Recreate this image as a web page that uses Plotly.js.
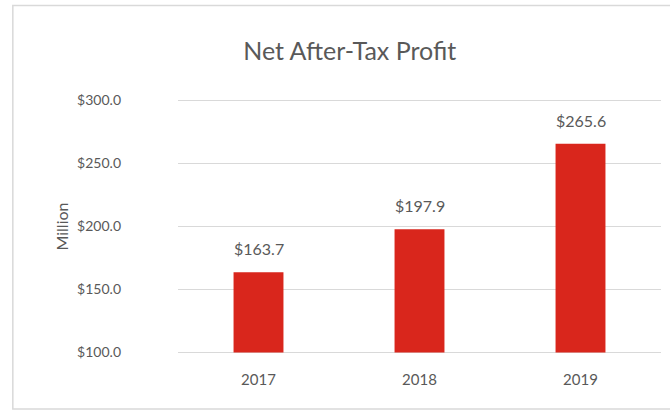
<!DOCTYPE html>
<html>
<head>
<meta charset="utf-8">
<script src="https://cdn.plot.ly/plotly-3.0.1.min.js"></script>
<style>
html,body{margin:0;padding:0;background:#fff;}
#chart{width:670px;height:410px;}
</style>
</head>
<body>
<div id="chart"></div>
<script>
const years = ["2017", "2018", "2019"];
const profit = [163.7, 197.9, 265.6];
const yTicks = [100, 150, 200, 250, 300];
const yTickLabels = ["$100.0", "$150.0", "$200.0", "$250.0", "$300.0"];
const axisFloor = 100;

const textColor = "#595959";
const font = "Lato, 'Open Sans', sans-serif";

// bars start at the axis floor ($100.0); their tops sit at the profit values
const trace = {
  type: "bar",
  x: years,
  y: profit.map(v => v - axisFloor),
  base: axisFloor,
  marker: {color: "#d9261c"},
  width: 0.31,
  hoverinfo: "skip"
};

const annotations = years.map((yr, i) => ({
  x: i, y: profit[i], xref: "x", yref: "y",
  text: "$" + profit[i].toFixed(1),
  showarrow: false, yanchor: "bottom", yshift: 12,
  font: {family: font, size: 16, color: textColor}
}));

const layout = {
  width: 670, height: 410,
  margin: {l: 178, r: 9, t: 98, b: 55},
  paper_bgcolor: "#fff", plot_bgcolor: "#fff",
  title: {text: "Net After-Tax Profit", x: 0.522, xanchor: "center", y: 0.875, yanchor: "middle",
          font: {family: font, size: 25, color: textColor}},
  xaxis: {type: "category", range: [-0.5, 2.5], autorange: false, showgrid: false, zeroline: false,
          showline: false, ticks: "",
          tickfont: {family: font, size: 15, color: textColor}, ticklabelstandoff: 14, fixedrange: true},
  yaxis: {range: [98, 302], autorange: false, tickvals: yTicks, ticktext: yTickLabels, showgrid: true,
          gridcolor: "#d9d9d9", gridwidth: 1, zeroline: false, showline: false, ticks: "",
          tickfont: {family: font, size: 14, color: textColor}, ticklabelstandoff: 56,
          title: {text: "Million", font: {family: font, size: 16, color: textColor}, standoff: 4},
          fixedrange: true},
  annotations: annotations,
  shapes: [{type: "rect", xref: "paper", yref: "paper", x0: -0.342, x1: 1.03, y0: -0.21, y1: 1.36,
            line: {color: "#d9d9d9", width: 1.5}, layer: "below"}],
  showlegend: false
};

Plotly.newPlot("chart", [trace], layout, {displayModeBar: false, staticPlot: true});
</script>
</body>
</html>
